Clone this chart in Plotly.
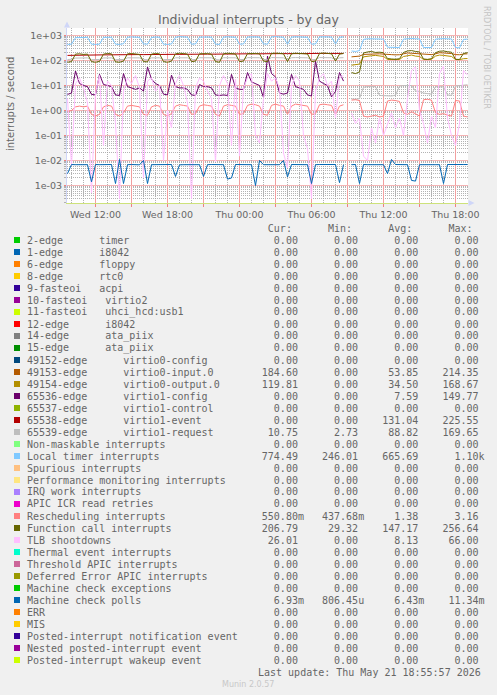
import plotly.graph_objects as go
import pandas as pd

# ---------------- data (20-minute samples, Wed 09:40 -> Thu 19:00) ----------------
start = pd.Timestamp("2026-05-20 09:40")
times = pd.date_range(start, periods=101, freq="20min")
N = None

local_timer = [440, 450, 820, 850, 830, 850, 450, 440, 450, 840, 860, 850, 450, 440, 470, 850, 880, 860, 840, 460,
               450, 830, 870, 850, 450, 440, 460, 850, 900, 880, 860, 450, 460, 860, 880, 870, 850, 450, 440, 860,
               890, 880, 850, 450, 460, 870, 900, 880, 860, 460, 450, 880, 900, 870, 850, 450, 860, 890, 880, 860,
               850, 450, 460, 880, 900, 880, 860, 460, 850, 880, N, 240, 230, 250, 700, 740, 730, 750, 740, 720,
               340, 330, 320, 330, 720, 750, 760, 740, 730, 330, 320, 330, 720, 760, 750, 740, 730, 330, 320, 700, 720]

virtio1_event = [160, 162, 163, 165, 163, 165, 166, 165, 166, 168, 168, 170, 170, 169, 171, 172, 172, 171, 173, 172,
                 174, 173, 175, 174, 175, 176, 175, 177, 176, 178, 178, 177, 179, 178, 180, 180, 179, 181, 182, 181,
                 183, 182, 184, 183, 184, 185, 184, 186, 185, 187, 186, 187, 188, 187, 189, 188, 190, 189, 190, 189,
                 191, 190, 191, 192, 191, 192, 193, 192, 193, 192, N, 0, 0, 0, 0, 0, 0, 0, 0, 0,
                 0, 0, 0, 0, 0, 0, 0, 0, 0, 0, 0, 0, 0, 0, 0, 0, 0, 0, 0, 0, 0]

virtio1_request = [110, 112, 125, 128, 126, 127, 108, 107, 110, 126, 128, 127, 108, 106, 110, 128, 130, 128, 127, 108,
                   107, 127, 129, 128, 108, 106, 110, 128, 131, 130, 128, 108, 110, 129, 130, 129, 128, 108, 106, 129,
                   131, 130, 128, 108, 110, 130, 132, 130, 129, 110, 108, 131, 132, 130, 128, 108, 129, 131, 130, 129,
                   128, 108, 110, 131, 132, 130, 129, 110, 128, 130, N, 2.9, 2.8, 3.0, 8.5, 9.0, 9.2, 9.0, 4.0, 3.9,
                   4.0, 3.8, 4.1, 9.5, 10.0, 9.8, 10.0, 6.0, 5.8, 5.0, 4.6, 4.5, 9.0, 9.2, 8.8, 4.2, 4.0, 9.5, 10.0, 10.2, 10.7]

virtio0_input = [0] * 71 + [140, 145, 150, 175, 180, 178, 182, 185, 180,
                            170, 172, 168, 170, 185, 200, 195, 190, 188, 172, 170, 172, 185, 205, 200, 195, 190,
                            172, 170, 182, 185]
virtio0_input[70] = N

virtio0_output = [0] * 71 + [65, 70, 72, 140, 150, 155, 160, 150, 145,
                             110, 112, 108, 110, 145, 160, 165, 150, 145, 110, 108, 112, 150, 165, 160, 150, 145,
                             110, 108, 118, 120]
virtio0_output[70] = N

virtio1_config = [4.4, 5, 38, 12, 10, 9, 4.4, 4.2, 28, 11, 10, 9, 4.2, 4.0, 30, 9, 8, 7, 8, 6,
                  55, 18, 12, 10, 4.5, 4.2, 26, 9, 8, 8, 7, 4.2, 4.0, 11, 9, 9, 8, 4.2, 4.0, 4.2,
                  4.0, 28, 8, 7, 7, 33, 14, 12, 10, 3.3, 150, 30, 22, 5, 4.5, 5, 28, 9, 8, 7,
                  4.2, 3.8, 95, 15, 12, 10, 3.5, 5.8, 33, 15, N, 0, 0, 0, 0, 0, 0, 0, 0, 0,
                  0, 0, 0, 0, 0, 0, 0, 0, 0, 0, 0, 0, 0, 0, 0, 0, 0, 0, 0, 0, 0]

rescheduling = [0.9, 1.0, 1.4, 1.5, 1.4, 1.5, 0.7, 0.6, 0.7, 1.4, 1.6, 1.5, 0.7, 0.6, 0.8, 1.5, 1.6, 1.5, 1.4, 0.7,
                0.65, 1.4, 1.6, 1.5, 0.7, 0.6, 0.75, 1.5, 1.7, 1.6, 1.5, 0.7, 0.75, 1.5, 1.7, 1.6, 1.5, 0.7, 0.6, 1.5,
                1.7, 1.6, 1.5, 0.7, 0.75, 1.6, 1.8, 1.7, 1.5, 0.7, 0.65, 1.6, 1.8, 1.6, 1.5, 0.7, 1.5, 1.8, 1.7, 1.6,
                1.5, 0.7, 0.75, 1.7, 1.8, 1.7, 1.6, 0.7, 1.5, 1.7, N, 2.6, 2.7, 2.5, 0.6, 0.55, 0.6, 0.65, 0.55, 0.6,
                2.4, 2.6, 2.5, 2.3, 0.8, 0.7, 0.9, 0.75, 0.6, 2.7, 2.8, 2.6, 0.8, 0.7, 0.75, 0.65, 0.6, 2.5, 2.4, 0.6, 0.55]

function_call = [85, 90, 180, 185, 175, 180, 90, 85, 92, 180, 190, 185, 88, 85, 95, 185, 190, 180, 175, 90,
                 88, 180, 190, 185, 90, 85, 95, 185, 195, 190, 180, 90, 95, 185, 190, 188, 180, 90, 85, 185,
                 195, 190, 182, 90, 95, 188, 195, 190, 185, 95, 90, 190, 198, 190, 185, 90, 185, 195, 190, 185,
                 182, 90, 95, 190, 200, 192, 185, 95, 180, 190, N, 33, 30, 35, 200, 220, 230, 210, 215, 205,
                 120, 115, 112, 118, 210, 240, 250, 230, 220, 115, 110, 118, 205, 235, 240, 225, 215, 112, 110, 190, 207]

tlb_shootdowns = [3, 0.006, 12, 20, 8, 2, 0.0005, 5, 25, 0.04, 15, 10, 0.3, 0.0003, 6, 20, 12, 25, 8, 0.002,
                  15, 20, 6, 10, 0.01, 1, 0.2, 12, 25, 10, 2, 0.0003, 8, 20, 15, 6, 3, 0.009, 10, 25,
                  12, 0.04, 18, 0.015, 8, 20, 30, 0.1, 0.05, 3, 30, 15, 20, 8, 0.02, 0.005, 10, 25, 15, 0.1,
                  0.03, 0.0003, 6, 20, 30, 10, 15, 0.5, 20, 25, N, 0.8, 0.3, 0.5, 0.015, 0.01, 0.2, 0.05, 0.5, 0.1,
                  0.3, 0.8, 0.2, 0.5, 0.1, 3, 40, 55, 1, 0.3, 0.05, 0.6, 0.2, 30, 60, 0.5, 0.1, 0.04, 0.3, 40, 26]

mc_polls = [0.003, 0.0069, 0.0068, 0.0067, 0.0068, 0.0068, 0.0014, 0.0069, 0.0068, 0.0067, 0.0068, 0.0069, 0.0012, 0.011, 0.0012, 0.0068, 0.0069, 0.0068, 0.0067, 0.01,
            0.0012, 0.0068, 0.0069, 0.0068, 0.0067, 0.0068, 0.0069, 0.0023, 0.0067, 0.0068, 0.0068, 0.0068, 0.0069, 0.0068, 0.0023, 0.0068, 0.0069, 0.0068, 0.0067, 0.0068,
            0.0018, 0.002, 0.0069, 0.0068, 0.0067, 0.0068, 0.0068, 0.001, 0.01, 0.0068, 0.0067, 0.0068, 0.0069, 0.0068, 0.01, 0.0022, 0.0069, 0.0068, 0.0067, 0.0068,
            0.0068, 0.0012, 0.0068, 0.0069, 0.0068, 0.0067, 0.0068, 0.0069, 0.0013, 0.0068, N, 0.0068, 0.0069, 0.0012, 0.0069, 0.0068, 0.0067, 0.0068, 0.0069, 0.0068,
            0.003, 0.011, 0.0069, 0.0068, 0.0067, 0.0068, 0.0016, 0.0015, 0.0068, 0.0067, 0.0068, 0.0069, 0.0068, 0.0068, 0.0012, 0.0069, 0.0068, 0.0067, 0.0068, 0.0069, 0.0069]

# legend table
legend_labels = [
    "2-edge      timer", "1-edge      i8042", "6-edge      floppy", "8-edge      rtc0",
    "9-fasteoi   acpi", "10-fasteoi   virtio2", "11-fasteoi   uhci_hcd:usb1", "12-edge      i8042",
    "14-edge      ata_piix", "15-edge      ata_piix", "49152-edge      virtio0-config",
    "49153-edge      virtio0-input.0", "49154-edge      virtio0-output.0", "65536-edge      virtio1-config",
    "65537-edge      virtio1-control", "65538-edge      virtio1-event", "65539-edge      virtio1-request",
    "Non-maskable interrupts", "Local timer interrupts", "Spurious interrupts",
    "Performance monitoring interrupts", "IRQ work interrupts", "APIC ICR read retries",
    "Rescheduling interrupts", "Function call interrupts", "TLB shootdowns", "Thermal event interrupts",
    "Threshold APIC interrupts", "Deferred Error APIC interrupts", "Machine check exceptions",
    "Machine check polls", "ERR", "MIS", "Posted-interrupt notification event",
    "Nested posted-interrupt event", "Posted-interrupt wakeup event",
]
legend_colors = [
    "#00CC00", "#0066B3", "#FF8000", "#FFCC00", "#330099", "#990099", "#CCFF00", "#FF0000", "#808080",
    "#008F00", "#00487D", "#B35A00", "#B38F00", "#6B006B", "#8FB300", "#B30000", "#BEBEBE", "#80FF80",
    "#80C9FF", "#FFC080", "#FFE680", "#AA80FF", "#EE00CC", "#FF8080", "#666600", "#FFBFFF", "#00FFCC",
    "#CC6699", "#999900", "#00CC00", "#0066B3", "#FF8000", "#FFCC00", "#330099", "#990099", "#CCFF00",
]
Z = "0.00"
cur_vals = [Z]*11 + ["184.60", "119.81", Z, Z, Z, "10.75", Z, "774.49", Z, Z, Z, Z, "550.80m", "206.79", "26.01",
                     Z, Z, Z, Z, "6.93m", Z, Z, Z, Z, Z]
min_vals = [Z]*16 + ["2.73", Z, "246.01", Z, Z, Z, Z, "437.68m", "29.32", Z, Z, Z, Z, Z, "806.45u", Z, Z, Z, Z, Z]
avg_vals = [Z]*11 + ["53.85", "34.50", "7.59", Z, "131.04", "88.82", Z, "665.69", Z, Z, Z, Z, "1.38", "147.17", "8.13",
                     Z, Z, Z, Z, "6.43m", Z, Z, Z, Z, Z]
max_vals = [Z]*11 + ["214.35", "168.67", "149.77", Z, "225.55", "169.65", Z, "1.10k", Z, Z, Z, Z, "3.16", "256.64", "66.00",
                     Z, Z, Z, Z, "11.34m", Z, Z, Z, Z, Z]

plotted = [
    ("49153-edge      virtio0-input.0", "#B35A00", virtio0_input),
    ("49154-edge      virtio0-output.0", "#B38F00", virtio0_output),
    ("65536-edge      virtio1-config", "#6B006B", virtio1_config),
    ("65538-edge      virtio1-event", "#B30000", virtio1_event),
    ("65539-edge      virtio1-request", "#BEBEBE", virtio1_request),
    ("Local timer interrupts", "#80C9FF", local_timer),
    ("Rescheduling interrupts", "#FF8080", rescheduling),
    ("Function call interrupts", "#666600", function_call),
    ("TLB shootdowns", "#FFBFFF", tlb_shootdowns),
    ("Machine check polls", "#0066B3", mc_polls),
]

# ---------------- geometry (pixels) ----------------
W_PX, H_PX = 497, 695
L, R, T, B = 67, 468, 28, 203
PW, PH = R - L, B - T
FONT = "#666666"


def px(x):
    return (x - L) / PW


def py(y):
    return (B - y) / PH


fig = go.Figure()
# empty helper trace so the hourly-grid overlay axis exists
fig.add_trace(go.Scatter(x=[], y=[], xaxis="x2", yaxis="y", hoverinfo="skip", showlegend=False))
for name, color, vals in plotted:
    fig.add_trace(go.Scatter(x=times, y=[v if (v is None or v > 0) else None for v in vals],
                             mode="lines", name=name, line=dict(color=color, width=1),
                             connectgaps=False, hoverinfo="skip"))

x0 = pd.Timestamp("2026-05-20 09:37:30")
x1 = x0 + pd.Timedelta(minutes=5 * PW)
major_x = pd.date_range("2026-05-20 12:00", "2026-05-21 18:00", freq="3h")
major_txt = [t.strftime("%a %H:%M") if t.hour % 6 == 0 else "" for t in major_x]
minor_x = [t for t in pd.date_range("2026-05-20 10:00", "2026-05-21 19:00", freq="1h") if t.hour % 3 != 0]

y_major = [10.0 ** e for e in range(-3, 4)]
y_major_txt = ["1e%+03d" % e for e in range(-3, 4)]
y_minor = [m * 10.0 ** e for e in range(-4, 4) for m in range(2, 10)]

RED = "#F2A0A0"
GRAY = "rgba(160,160,160,0.8)"
AXISC = "#CFD6F8"

fig.update_layout(xaxis2=dict(overlaying="x", anchor="y", type="date", range=[x0, x1], tickmode="array",
                              tickvals=minor_x, showgrid=True, gridcolor=GRAY, griddash="1px,1px",
                              showticklabels=False, ticks="", showline=False, zeroline=False, fixedrange=True))
fig.update_layout(xaxis=dict(range=[x0, x1], tickmode="array", tickvals=list(major_x), ticktext=major_txt,
                             showgrid=True, gridcolor=RED, gridwidth=1,
                             ticks="outside", ticklen=3, tickcolor="#F08080",
                             showline=True, linecolor="#CDE27A", linewidth=1, zeroline=False,
                             tickfont=dict(family="DejaVu Sans", size=9.5, color=FONT), fixedrange=True))
fig.update_yaxes(type="log", range=[-3.7, 3.3], tickmode="array", tickvals=y_major, ticktext=y_major_txt,
                 showgrid=True, gridcolor="#F5B4B4", gridwidth=1,
                 ticks="outside", ticklen=2, tickcolor="#F08080",
                 minor=dict(tickmode="array", tickvals=y_minor, showgrid=True, gridcolor=GRAY,
                            griddash="1px,1px", ticks="outside", ticklen=2, tickcolor=GRAY),
                 showline=True, linecolor=AXISC, linewidth=1, zeroline=False,
                 tickfont=dict(family="DejaVu Sans", size=9.5, color=FONT), fixedrange=True)

ann = []
shapes = []
# 3-hourly major vertical grid lines, placed on the time axis, between the grid and the traces
for t in major_x:
    shapes.append(dict(type="line", xref="x", yref="paper", x0=t, x1=t, y0=0, y1=1, layer="between",
                       line=dict(color=RED, width=1)))

P = dict(xref="paper", yref="paper", showarrow=False)
ann.append(dict(x=px(248.5), y=py(19), text="Individual interrupts - by day",
                font=dict(family="DejaVu Sans", size=12.5, color=FONT), xanchor="center", yanchor="middle", **P))
ann.append(dict(x=px(10), y=py(104), text="interrupts / second", textangle=-90,
                font=dict(family="DejaVu Sans", size=10, color=FONT), xanchor="center", yanchor="middle", **P))
ann.append(dict(x=px(487), y=py(57), text="RRDTOOL / TOBI OETIKER", textangle=90,
                font=dict(family="DejaVu Sans", size=8, color="#C4C4C4"), xanchor="center", yanchor="middle", **P))

MONO = dict(family="DejaVu Sans Mono", size=10, color=FONT)
NB = "\u00a0"


def field(s):
    if s[-1].isalpha():
        return s[:-1].rjust(6) + s[-1] + "   "
    return s.rjust(6) + "    "


TX = 24.5
ann.append(dict(x=px(TX), y=py(228), text=(" " * 40 + "Cur:      Min:      Avg:      Max:").replace(" ", NB),
                xanchor="left", yanchor="middle", font=MONO, **P))
for k, lab in enumerate(legend_labels):
    yy = 240 + 12 * k
    line = lab.ljust(39) + field(cur_vals[k]) + field(min_vals[k]) + field(avg_vals[k]) + field(max_vals[k])
    ann.append(dict(x=px(TX), y=py(yy), text=line.rstrip().replace(" ", NB),
                    xanchor="left", yanchor="middle", font=MONO, **P))
    shapes.append(dict(type="rect", xref="paper", yref="paper", x0=px(14), x1=px(20), y0=py(yy + 3), y1=py(yy - 3),
                       fillcolor=legend_colors[k], line=dict(width=0)))
ann.append(dict(x=px(483), y=py(672), text="Last update: Thu May 21 18:55:57 2026".replace(" ", NB),
                xanchor="right", yanchor="middle", font=MONO, **P))
ann.append(dict(x=px(248), y=py(684), text="Munin 2.0.57", xanchor="center", yanchor="middle",
                font=dict(family="DejaVu Sans", size=8, color="#C8C8C8"), **P))

# axis arrows
shapes.append(dict(type="path", xref="paper", yref="paper",
                   path="M %f %f L %f %f L %f %f Z" % (px(64), py(27.5), px(70), py(27.5), px(67), py(21.5)),
                   fillcolor=AXISC, line=dict(width=0)))
shapes.append(dict(type="path", xref="paper", yref="paper",
                   path="M %f %f L %f %f L %f %f Z" % (px(468.5), py(200), px(468.5), py(206), px(474.5), py(203)),
                   fillcolor=AXISC, line=dict(width=0)))

fig.update_layout(width=W_PX, height=H_PX, margin=dict(l=L, r=W_PX - R, t=T, b=H_PX - B, pad=0),
                  paper_bgcolor="#F0F0F0", plot_bgcolor="#FFFFFF", showlegend=False,
                  annotations=ann, shapes=shapes, font=dict(family="DejaVu Sans", color=FONT))

fig.write_html("out.html", config={"displayModeBar": False, "staticPlot": True},
               post_script="document.body.style.margin='0';")
